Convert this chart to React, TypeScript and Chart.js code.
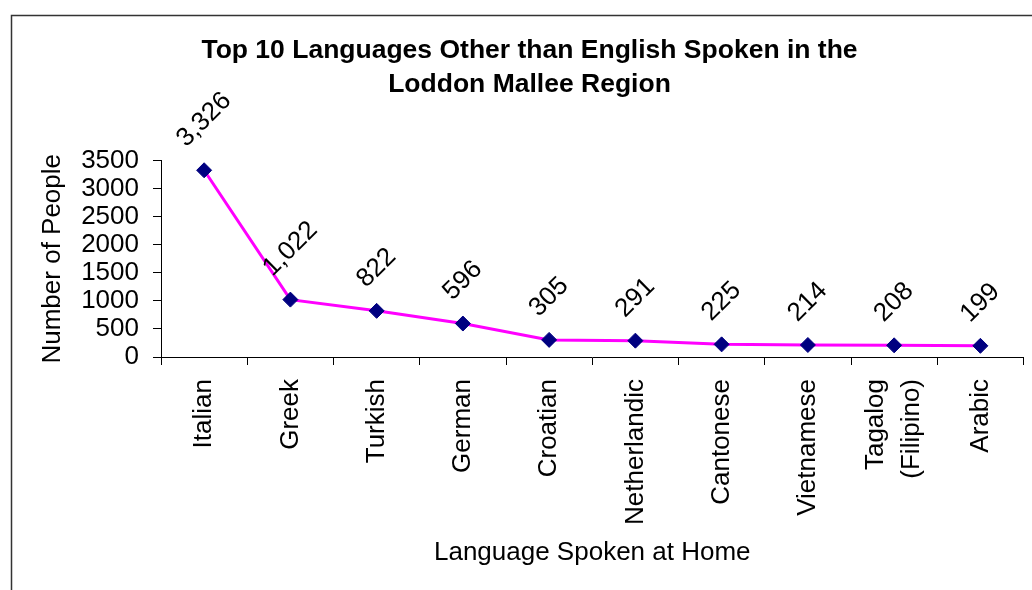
import React, { useEffect, useRef } from 'react';
import { Chart, registerables } from 'chart.js';

Chart.register(...registerables);

const categories: (string | string[])[] = [
  'Italian',
  'Greek',
  'Turkish',
  'German',
  'Croatian',
  'Netherlandic',
  'Cantonese',
  'Vietnamese',
  ['Tagalog', '(Filipino)'],
  'Arabic',
];
const speakers: number[] = [3326, 1022, 822, 596, 305, 291, 225, 214, 208, 199];
const yMin = 0;
const yMax = 3500;
const yStep = 500;
const chartTitle: string[] = [
  'Top 10 Languages Other than English Spoken in the',
  'Loddon Mallee Region',
];
const xTitle = 'Language Spoken at Home';
const yTitle = 'Number of People';

const FONT = '"Liberation Sans", Arial, Helvetica, sans-serif';
const FS = 26;

const framePlugin = {
  id: 'frame',
  beforeDraw(chart: any) {
    const ctx = chart.ctx;
    ctx.save();
    ctx.fillStyle = '#ffffff';
    ctx.fillRect(0, 0, chart.width, chart.height);
    ctx.strokeStyle = '#333333';
    ctx.lineWidth = 1.5;
    ctx.beginPath();
    ctx.moveTo(11.5, chart.height + 5);
    ctx.lineTo(11.5, 15.5);
    ctx.lineTo(chart.width + 5, 15.5);
    ctx.stroke();
    ctx.restore();
  },
};

// Chart title, centred over the whole chart frame.
const titlePlugin = {
  id: 'chartTitle',
  afterDraw(chart: any) {
    const ctx = chart.ctx;
    ctx.save();
    ctx.font = `bold 26.5px ${FONT}`;
    ctx.fillStyle = '#000000';
    ctx.textAlign = 'center';
    ctx.textBaseline = 'alphabetic';
    chartTitle.forEach((line, i) => {
      ctx.fillText(line, 529.5, 58 + i * 34);
    });
    ctx.restore();
  },
};

// Category labels, rotated to read upwards, multi-line labels centred on their tick.
const xLabelPlugin = {
  id: 'xLabels',
  afterDraw(chart: any) {
    const ctx = chart.ctx;
    const scale = chart.scales.x;
    const labels = chart.data.labels as (string | string[])[];
    const lh = FS * 1.4;
    const top = scale.top + 8 + 14;
    ctx.save();
    ctx.font = `${FS}px ${FONT}`;
    ctx.fillStyle = '#000000';
    ctx.textAlign = 'right';
    ctx.textBaseline = 'middle';
    labels.forEach((lab, i) => {
      const lines = Array.isArray(lab) ? lab : [lab];
      const x = scale.getPixelForTick(i);
      ctx.save();
      ctx.translate(x, top);
      ctx.rotate(-Math.PI / 2);
      lines.forEach((line, j) => {
        const off = (j - (lines.length - 1) / 2) * lh;
        ctx.fillText(line, 0, off);
      });
      ctx.restore();
    });
    ctx.restore();
  },
};

const dataLabelPlugin = {
  id: 'dataLabels',
  afterDatasetsDraw(chart: any) {
    const ctx = chart.ctx;
    const meta = chart.getDatasetMeta(0);
    const values = chart.data.datasets[0].data as number[];
    ctx.save();
    ctx.font = `${FS}px ${FONT}`;
    ctx.fillStyle = '#000000';
    ctx.textAlign = 'center';
    ctx.textBaseline = 'middle';
    meta.data.forEach((pt: any, i: number) => {
      const text = values[i].toLocaleString('en-US');
      const w = ctx.measureText(text).width;
      const h = FS * 1.15;
      const box = (w + h) * Math.SQRT1_2;
      const cx = pt.x;
      const cy = pt.y - 17 - box / 2;
      ctx.save();
      ctx.translate(cx, cy);
      ctx.rotate(-Math.PI / 4);
      ctx.fillText(text, 0, 0);
      ctx.restore();
    });
    ctx.restore();
  },
};

export default function App() {
  const canvasRef = useRef<HTMLCanvasElement | null>(null);

  useEffect(() => {
    const canvas = canvasRef.current;
    if (!canvas) return;
    const chart = new Chart(canvas, {
      type: 'line',
      data: {
        labels: categories,
        datasets: [
          {
            data: speakers,
            borderColor: '#ff00ff',
            borderWidth: 3,
            tension: 0,
            pointStyle: 'rectRot',
            pointRadius: 7.5,
            pointBackgroundColor: '#000080',
            pointBorderColor: '#000080',
            pointBorderWidth: 1,
            clip: false as any,
          },
        ],
      },
      options: {
        animation: false,
        responsive: false,
        devicePixelRatio: 1,
        layout: { padding: { left: 11, right: 5, top: 160.5, bottom: 0 } },
        plugins: {
          legend: { display: false },
          tooltip: { enabled: false },
          title: { display: false },
        },
        scales: {
          x: {
            type: 'category',
            offset: true,
            afterFit(scale: any) {
              scale.height = 233;
            },
            grid: {
              offset: true,
              drawOnChartArea: false,
              drawTicks: true,
              tickLength: 8,
              tickColor: '#000000',
              lineWidth: 1,
            },
            border: { display: true, color: '#000000', width: 1 },
            ticks: {
              display: false,
              autoSkip: false,
            },
            title: {
              display: true,
              text: xTitle,
              color: '#000000',
              font: { family: FONT, size: FS, lineHeight: 1.2 },
              padding: { top: 0, bottom: 21.4 },
            },
          },
          y: {
            min: yMin,
            max: yMax,
            afterFit(scale: any) {
              scale.width = 150;
            },
            grid: {
              drawOnChartArea: false,
              drawTicks: true,
              tickLength: 8,
              tickColor: '#000000',
              lineWidth: 1,
            },
            border: { display: true, color: '#000000', width: 1 },
            ticks: {
              stepSize: yStep,
              autoSkip: false,
              padding: 14,
              color: '#000000',
              font: { family: FONT, size: FS },
              callback: (v: any) => String(v),
            },
            title: {
              display: true,
              text: yTitle,
              color: '#000000',
              font: { family: FONT, size: FS, lineHeight: 1.2 },
              padding: { top: 26, bottom: 0 },
            },
          },
        },
      },
      plugins: [framePlugin, titlePlugin, xLabelPlugin, dataLabelPlugin],
    });
    return () => chart.destroy();
  }, []);

  return (
    <div style={{ position: 'fixed', left: 0, top: 0, width: 1032, height: 590 }}>
      <canvas ref={canvasRef} width={1032} height={590} style={{ width: 1032, height: 590, display: 'block' }} />
    </div>
  );
}
